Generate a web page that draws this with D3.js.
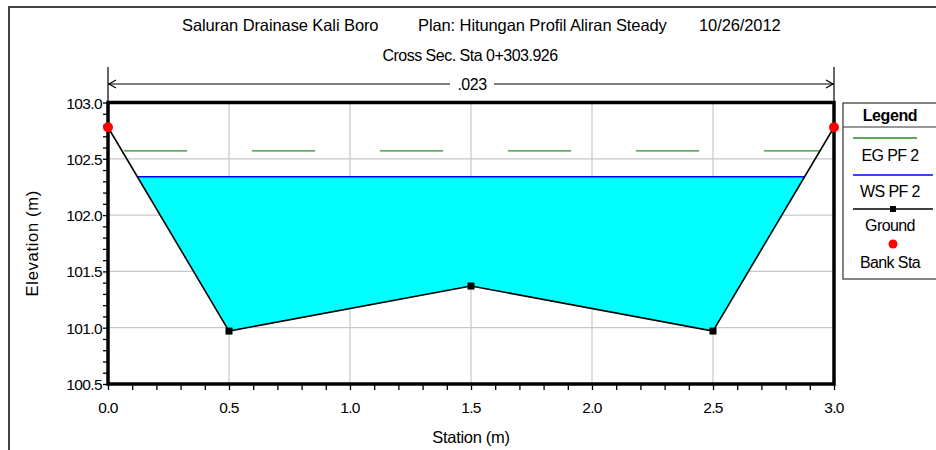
<!DOCTYPE html>
<html>
<head>
<meta charset="utf-8">
<script src="https://cdn.jsdelivr.net/npm/d3@7"></script>
<style>
  body { margin: 0; background: #fff; }
  svg { display: block; font-family: "Liberation Sans", Arial, sans-serif; }
  .grid line { stroke: #c8c8c8; stroke-width: 1.2; }
  .tick-label { font-size: 15.5px; fill: #000; letter-spacing: -0.6px; }
  .title { font-size: 16.5px; letter-spacing: -0.1px; }
  .subtitle { font-size: 16px; letter-spacing: -0.5px; }
</style>
</head>
<body>
<div id="chart"></div>
<script>
// chart data
const titleParts = ['Saluran Drainase Kali Boro', 'Plan: Hitungan Profil Aliran Steady', '10/26/2012'];
const subtitle = 'Cross Sec. Sta 0+303.926';
const stations = [0.0, 0.5, 1.5, 2.5, 3.0];
const elevations = [102.78, 100.97, 101.37, 100.97, 102.78];
const bankStations = [0.0, 3.0];
const wsElevation = [102.34];
const egElevation = [102.57];
const manningN = ['.023'];
const manningRange = [0.0, 3.0];
const xTicks = [0.0, 0.5, 1.0, 1.5, 2.0, 2.5, 3.0];
const yTicks = [100.5, 101.0, 101.5, 102.0, 102.5, 103.0];
const legendItems = ['EG PF 2', 'WS PF 2', 'Ground', 'Bank Sta'];

const width = 936, height = 450;
const plot = { left: 108, right: 834, top: 102.5, bottom: 384 };

const svg = d3.select('#chart').append('svg')
  .attr('width', width)
  .attr('height', height);

const x = d3.scaleLinear().domain([0, 3]).range([plot.left, plot.right]);
const y = d3.scaleLinear().domain([100.5, 103]).range([plot.bottom, plot.top]);

// outer frame
svg.append('rect')
  .attr('x', 9).attr('y', 7)
  .attr('width', 940).attr('height', 460)
  .attr('fill', 'none')
  .attr('stroke', '#444')
  .attr('stroke-width', 2);

// titles
svg.append('text')
  .attr('class', 'title')
  .attr('x', 182).attr('y', 31)
  .text(titleParts[0]);
svg.append('text')
  .attr('class', 'title')
  .attr('x', 418).attr('y', 31)
  .text(titleParts[1]);
svg.append('text')
  .attr('class', 'title')
  .attr('x', 699).attr('y', 31)
  .text(titleParts[2]);
svg.append('text')
  .attr('class', 'subtitle')
  .attr('x', 470).attr('y', 61)
  .attr('text-anchor', 'middle')
  .text(subtitle);

// grid
const grid = svg.append('g').attr('class', 'grid');
grid.selectAll('.gx').data(xTicks.slice(1, -1)).enter().append('line')
  .attr('x1', d => x(d)).attr('x2', d => x(d))
  .attr('y1', plot.top).attr('y2', plot.bottom);
grid.selectAll('.gy').data(yTicks.slice(1, -1)).enter().append('line')
  .attr('y1', d => y(d)).attr('y2', d => y(d))
  .attr('x1', plot.left).attr('x2', plot.right);

// water surface fill: clip the ground below the WS elevation
function crossings(level) {
  let pts = [];
  for (let i = 0; i < stations.length - 1; i++) {
    const s0 = stations[i], s1 = stations[i + 1];
    const e0 = elevations[i], e1 = elevations[i + 1];
    if ((e0 - level) * (e1 - level) < 0) {
      const t = (level - e0) / (e1 - e0);
      pts.push(s0 + t * (s1 - s0));
    }
  }
  return pts;
}
const wsX = crossings(wsElevation[0]);
const fillPts = [[wsX[0], wsElevation[0]]];
stations.forEach((s, i) => {
  if (s > wsX[0] && s < wsX[wsX.length - 1]) fillPts.push([s, elevations[i]]);
});
fillPts.push([wsX[wsX.length - 1], wsElevation[0]]);

svg.append('path')
  .datum(fillPts)
  .attr('d', d3.line().x(d => x(d[0])).y(d => y(d[1])))
  .attr('fill', '#00ffff');

// WS line
svg.append('line')
  .attr('x1', x(wsX[0])).attr('x2', x(wsX[wsX.length - 1]))
  .attr('y1', y(wsElevation[0])).attr('y2', y(wsElevation[0]))
  .attr('stroke', '#0000ff').attr('stroke-width', 1.5);

// EG line (dashed)
const egX = crossings(egElevation[0]);
svg.append('line')
  .attr('x1', x(egX[0]) + 2).attr('x2', x(egX[egX.length - 1]))
  .attr('y1', y(egElevation[0])).attr('y2', y(egElevation[0]))
  .attr('stroke', '#2a8a2a').attr('stroke-width', 1.3)
  .attr('stroke-dasharray', '63,65');

// ground line
svg.append('path')
  .datum(stations.map((s, i) => [s, elevations[i]]))
  .attr('d', d3.line().x(d => x(d[0])).y(d => y(d[1])))
  .attr('fill', 'none')
  .attr('stroke', '#000')
  .attr('stroke-width', 1.6);

// ground points (interior)
svg.selectAll('.gpt')
  .data(stations.map((s, i) => [s, elevations[i]]).filter(d => bankStations.indexOf(d[0]) < 0))
  .enter().append('rect')
  .attr('x', d => x(d[0]) - 3.5).attr('y', d => y(d[1]) - 3.5)
  .attr('width', 7).attr('height', 7)
  .attr('fill', '#000');

// axes
const xAxis = svg.append('g')
  .attr('transform', `translate(0,${plot.bottom})`)
  .call(d3.axisBottom(x).tickValues(d3.range(0, 30.5, 1).map(d => d / 10)).tickSize(6).tickFormat(''));
xAxis.select('.domain').remove();
xAxis.selectAll('line').attr('stroke', '#000').attr('stroke-width', 1.3);

svg.selectAll('.xl').data(xTicks).enter().append('text')
  .attr('class', 'tick-label')
  .attr('x', d => x(d)).attr('y', plot.bottom + 29)
  .attr('text-anchor', 'middle')
  .text(d => d3.format('.1f')(d));

const yAxis = svg.append('g')
  .attr('transform', `translate(${plot.left},0)`)
  .call(d3.axisLeft(y).tickValues(d3.range(1005, 1030.5, 1).map(d => d / 10)).tickSize(5).tickFormat(''));
yAxis.select('.domain').remove();
yAxis.selectAll('line').attr('stroke', '#000').attr('stroke-width', 1.3);

svg.selectAll('.yl').data(yTicks).enter().append('text')
  .attr('class', 'tick-label')
  .attr('x', plot.left - 6).attr('y', d => y(d) + 6)
  .attr('text-anchor', 'end')
  .text(d => d3.format('.1f')(d));

// plot frame
svg.append('rect')
  .attr('x', plot.left).attr('y', plot.top)
  .attr('width', plot.right - plot.left).attr('height', plot.bottom - plot.top)
  .attr('fill', 'none')
  .attr('stroke', '#000')
  .attr('stroke-width', 3.5);

// bank stations
svg.selectAll('.bank')
  .data(bankStations)
  .enter().append('circle')
  .attr('cx', d => x(d))
  .attr('cy', d => y(elevations[stations.indexOf(d)]))
  .attr('r', 5)
  .attr('fill', '#ff0000');

// manning's n dimension line
const nY = 84;
const nG = svg.append('g').attr('stroke', '#000').attr('stroke-width', 1.2).attr('fill', 'none');
manningRange.forEach(d => {
  nG.append('line').attr('x1', x(d)).attr('x2', x(d)).attr('y1', 67).attr('y2', plot.top);
});
const nMid = x((manningRange[0] + manningRange[1]) / 2);
nG.append('line').attr('x1', x(manningRange[0])).attr('x2', nMid - 21).attr('y1', nY).attr('y2', nY);
nG.append('line').attr('x1', nMid + 23).attr('x2', x(manningRange[1])).attr('y1', nY).attr('y2', nY);
nG.append('path').attr('d', `M${x(manningRange[0]) + 8},${nY - 4}L${x(manningRange[0]) + 1},${nY}L${x(manningRange[0]) + 8},${nY + 4}`);
nG.append('path').attr('d', `M${x(manningRange[1]) - 8},${nY - 4}L${x(manningRange[1]) - 1},${nY}L${x(manningRange[1]) - 8},${nY + 4}`);
svg.append('text')
  .attr('class', 'subtitle')
  .attr('x', nMid + 1).attr('y', nY + 6)
  .attr('text-anchor', 'middle')
  .text(manningN[0]);

// axis titles
svg.append('text')
  .attr('class', 'title')
  .attr('x', x(1.5)).attr('y', 443)
  .attr('text-anchor', 'middle')
  .style('letter-spacing', '-0.3px')
  .text('Station (m)');
svg.append('text')
  .attr('class', 'title')
  .attr('transform', `translate(38,${(plot.top + plot.bottom) / 2}) rotate(-90)`)
  .attr('text-anchor', 'middle')
  .style('letter-spacing', '0.7px')
  .text('Elevation (m)');

// legend
const lg = svg.append('g');
const lgX = 843, lgW = 100;
lg.append('rect')
  .attr('x', lgX).attr('y', 103)
  .attr('width', lgW).attr('height', 176)
  .attr('fill', '#fff').attr('stroke', '#333').attr('stroke-width', 1.2);
lg.append('line')
  .attr('x1', lgX).attr('x2', lgX + lgW).attr('y1', 127).attr('y2', 127)
  .attr('stroke', '#333').attr('stroke-width', 1.2);
lg.append('text')
  .attr('x', 890).attr('y', 121)
  .attr('text-anchor', 'middle')
  .style('font-size', '16px').style('font-weight', 'bold').style('letter-spacing', '-0.4px')
  .text('Legend');

const labelY = [161, 197, 231, 268];
lg.append('line').attr('x1', 853).attr('x2', 917).attr('y1', 138).attr('y2', 138)
  .attr('stroke', '#2a8a2a').attr('stroke-width', 1.3);
lg.append('line').attr('x1', 853).attr('x2', 933).attr('y1', 175).attr('y2', 175)
  .attr('stroke', '#0000ff').attr('stroke-width', 1.3);
lg.append('line').attr('x1', 853).attr('x2', 933).attr('y1', 209).attr('y2', 209)
  .attr('stroke', '#000').attr('stroke-width', 1.3);
lg.append('rect').attr('x', 890).attr('y', 206).attr('width', 6).attr('height', 6).attr('fill', '#000');
lg.append('circle').attr('cx', 893).attr('cy', 244).attr('r', 4.5).attr('fill', '#ff0000');
lg.selectAll('.lt').data(legendItems).enter().append('text')
  .attr('x', 890).attr('y', (d, i) => labelY[i])
  .attr('text-anchor', 'middle')
  .style('font-size', '16px').style('letter-spacing', '-0.6px')
  .text(d => d);
</script>
</body>
</html>
